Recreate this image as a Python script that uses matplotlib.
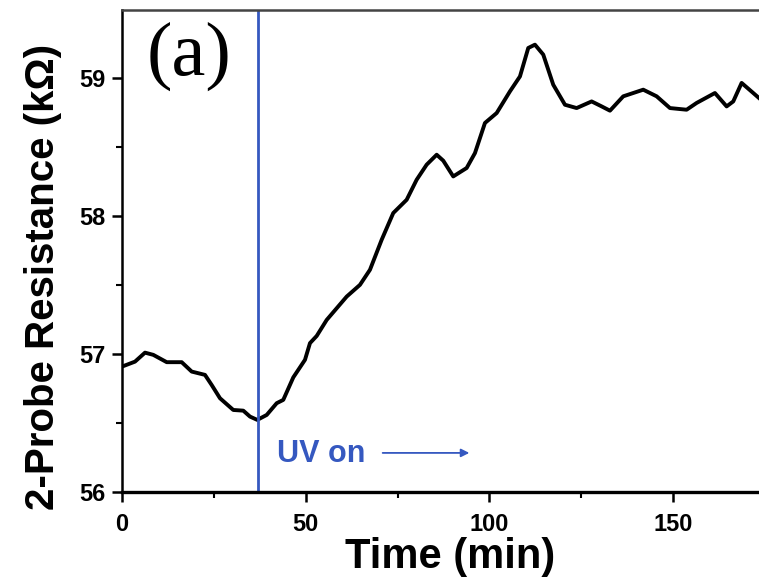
import matplotlib
matplotlib.use("Agg")
import matplotlib.pyplot as plt
from matplotlib.ticker import MultipleLocator

time_min = [0, 3.54, 6.26, 8.52, 12.17, 16.25, 18.97, 22.59, 24.41, 26.67, 30.29,
            33.02, 34.84, 36.83, 39.39, 42.11, 43.90, 46.63, 49.81, 51.17, 53.0,
            55.72, 61.16, 64.78, 67.50, 70.68, 73.84, 77.49, 80.21, 82.93, 85.66,
            87.45, 90.17, 93.82, 96.08, 98.80, 101.99, 105.61, 108.33, 110.59,
            112.41, 114.67, 117.39, 120.58, 123.76, 127.84, 130.57, 132.83, 136.45,
            141.89, 145.54, 149.16, 153.70, 156.42, 161.40, 164.59, 166.39, 168.67,
            171.83, 173.38]
resistance_kohm = [56.908, 56.944, 57.009, 56.993, 56.940, 56.940, 56.872, 56.848,
                   56.775, 56.679, 56.594, 56.589, 56.546, 56.522, 56.558, 56.643,
                   56.667, 56.83, 56.957, 57.078, 57.13, 57.246, 57.415, 57.500,
                   57.609, 57.826, 58.020, 58.116, 58.261, 58.370, 58.442, 58.399,
                   58.285, 58.346, 58.454, 58.672, 58.744, 58.901, 59.009, 59.215,
                   59.239, 59.167, 58.949, 58.804, 58.780, 58.828, 58.792, 58.761,
                   58.865, 58.913, 58.865, 58.780, 58.768, 58.817, 58.889, 58.792,
                   58.828, 58.962, 58.889, 58.853]
uv_on_time = 37.0
x_ticks = [0, 50, 100, 150]
y_ticks = [56, 57, 58, 59]

blue = "#3558c0"

fig = plt.figure(figsize=(7.59, 5.77), dpi=100)
ax = fig.add_axes([122 / 759, 1 - 492 / 577, 1 - 122 / 759, (492 - 10) / 577])

ax.plot(time_min, resistance_kohm, color="black", lw=2.8, solid_joinstyle="round")
ax.axvline(uv_on_time, color=blue, lw=2.0)

ax.set_xlim(0, 173.4)
ax.set_ylim(56, 59.49)
ax.set_xticks(x_ticks)
ax.set_yticks(y_ticks)
ax.xaxis.set_minor_locator(MultipleLocator(25))
ax.yaxis.set_minor_locator(MultipleLocator(0.5))

ax.tick_params(which="major", direction="out", length=7, width=1.8, labelsize=17)
ax.tick_params(axis="x", which="major", pad=8)
ax.tick_params(axis="y", which="major", pad=5)
ax.tick_params(which="minor", direction="out", length=4, width=1.5)
ax.tick_params(top=False, right=False, which="both")
for lab in ax.get_xticklabels() + ax.get_yticklabels():
    lab.set_fontfamily("Liberation Sans")
    lab.set_fontweight("bold")

ax.spines["right"].set_visible(False)
ax.spines["left"].set_linewidth(1.8)
ax.spines["bottom"].set_linewidth(2.4)
ax.spines["top"].set_linewidth(1.8)
ax.spines["top"].set_color("#444444")

ax.set_ylabel("2-Probe Resistance (kΩ)", fontsize=29, fontweight="bold",
              fontfamily="Liberation Sans")
ax.yaxis.set_label_coords(-0.094, 0.447)
ax.set_xlabel("Time (min)", fontsize=30, fontweight="bold",
              fontfamily="Liberation Sans")
ax.xaxis.set_label_coords(0.515, -0.093)

ax.text(0.038, 0.975, "(a)", transform=ax.transAxes, fontsize=55,
        fontfamily="Liberation Serif", va="top", ha="left")

ax.text(42.2, 56.215, "UV on", color=blue, fontsize=22, fontweight="bold",
        fontfamily="Liberation Sans", va="baseline", ha="left")
ax.annotate("", xy=(95.3, 56.283), xytext=(70.2, 56.283),
            arrowprops=dict(arrowstyle="-|>", color=blue, lw=1.3,
                            mutation_scale=12))

fig.savefig("out.png", dpi=100)
